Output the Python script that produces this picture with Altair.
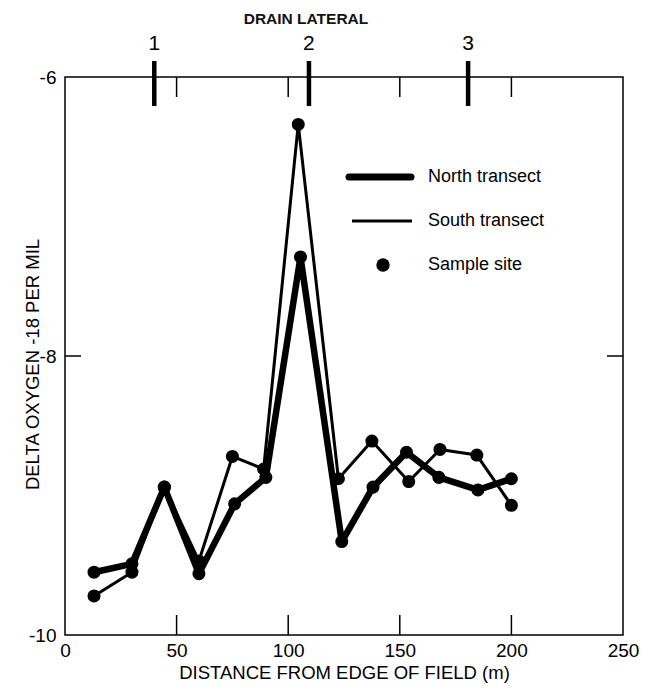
import altair as alt
import pandas as pd

# ---- data ----
north_x = [13, 30, 44.5, 60, 76, 90, 105.5, 124, 138, 153, 167.5, 185, 200]
north_y = [-9.55, -9.49, -8.94, -9.56, -9.06, -8.87, -7.29, -9.33, -8.94, -8.69, -8.87, -8.96, -8.88]
south_x = [13, 30, 44.5, 60, 75, 89, 104.5, 122.5, 137.5, 154, 168, 184.5, 200]
south_y = [-9.72, -9.55, -8.94, -9.47, -8.72, -8.81, -6.34, -8.88, -8.61, -8.90, -8.67, -8.71, -9.07]

drain_x = [40, 109.3, 180.6]
drain_labels = ["1", "2", "3"]

x_tick_values = [50, 100, 150, 200]
y_tick_values = [-8]

FONT = "Liberation Sans, Arial, Helvetica, sans-serif"
W, H = 558, 558

df = pd.DataFrame({
    "x": north_x + south_x,
    "y": north_y + south_y,
    "transect": ["North"] * len(north_x) + ["South"] * len(south_x),
})
drain_df = pd.DataFrame({"x": drain_x, "label": drain_labels})
xt_df = pd.DataFrame({"x": x_tick_values})
yt_df = pd.DataFrame({"y": y_tick_values})
one = pd.DataFrame({"a": [0]})

xscale = alt.Scale(domain=[0, 250], nice=False, zero=False)
yscale = alt.Scale(domain=[-10, -6], nice=False, zero=False)

xaxis = alt.Axis(
    values=[0, 50, 100, 150, 200, 250], title="DISTANCE FROM EDGE OF FIELD (m)",
    domain=False, ticks=False, grid=False, labelFont=FONT, titleFont=FONT,
    labelFontSize=19, titleFontSize=18.5, labelColor="black", titleColor="black",
    titleFontWeight="normal", labelPadding=6, labelFlush=False,
    titleY=43, titleBaseline="alphabetic")
yaxis = alt.Axis(
    values=[-10, -8, -6], labelExpr="datum.value + ''", title="DELTA OXYGEN -18 PER MIL",
    domain=False, ticks=False, grid=False, labelFont=FONT, titleFont=FONT,
    labelFontSize=19, titleFontSize=18.5, labelColor="black", titleColor="black",
    titleFontWeight="normal", labelPadding=9, labelFlush=False,
    titleX=-27, titleY=287, titleBaseline="alphabetic", titleAngle=270)

X = alt.X("x:Q", scale=xscale, axis=xaxis)
Y = alt.Y("y:Q", scale=yscale, axis=yaxis)

base = alt.Chart(df)
north_line = base.transform_filter(alt.datum.transect == "North").mark_line(
    color="black", strokeWidth=6.5, strokeJoin="round", strokeCap="round").encode(x=X, y=Y)
south_line = base.transform_filter(alt.datum.transect == "South").mark_line(
    color="black", strokeWidth=3, strokeJoin="round", strokeCap="round").encode(x=X, y=Y)
points = base.mark_circle(color="black", opacity=1, size=170).encode(x=X, y=Y)

# inward ticks
bottom_ticks = alt.Chart(xt_df).mark_rule(color="black", strokeWidth=1.5).encode(
    x=X, y=alt.value(H), y2=alt.value(H - 20))
top_ticks = alt.Chart(xt_df).mark_rule(color="black", strokeWidth=1.5).encode(
    x=X, y=alt.value(0), y2=alt.value(20))
left_ticks = alt.Chart(yt_df).mark_rule(color="black", strokeWidth=1.5).encode(
    y=Y, x=alt.value(0), x2=alt.value(16))
right_ticks = alt.Chart(yt_df).mark_rule(color="black", strokeWidth=1.5).encode(
    y=Y, x=alt.value(W - 16), x2=alt.value(W))

# drain laterals
drain_rules = alt.Chart(drain_df).mark_rule(color="black", strokeWidth=4.5).encode(
    x=X, y=alt.value(-16), y2=alt.value(29))
drain_text = alt.Chart(drain_df).mark_text(
    font=FONT, fontSize=21, color="black", baseline="middle", align="center").encode(
    x=X, y=alt.value(-33), text="label:N")
drain_title = alt.Chart(one).mark_text(
    font=FONT, fontSize=15.5, fontWeight="bold", color="#111", baseline="middle",
    align="center", text="DRAIN LATERAL").encode(x=alt.value(241), y=alt.value(-58))

# legend
leg_n = alt.Chart(one).mark_rule(color="black", strokeWidth=7, strokeCap="round").encode(
    x=alt.value(284), x2=alt.value(346), y=alt.value(100))
leg_s = alt.Chart(one).mark_rule(color="black", strokeWidth=3).encode(
    x=alt.value(287), x2=alt.value(347), y=alt.value(144))
leg_p = alt.Chart(one).mark_circle(color="black", opacity=1, size=180).encode(
    x=alt.value(318), y=alt.value(188))
leg_t1 = alt.Chart(one).mark_text(font=FONT, fontSize=18, color="black", align="left",
    baseline="middle", text="North transect").encode(x=alt.value(363), y=alt.value(100))
leg_t2 = alt.Chart(one).mark_text(font=FONT, fontSize=18, color="black", align="left",
    baseline="middle", text="South transect").encode(x=alt.value(363), y=alt.value(144))
leg_t3 = alt.Chart(one).mark_text(font=FONT, fontSize=18, color="black", align="left",
    baseline="middle", text="Sample site").encode(x=alt.value(363), y=alt.value(188))

chart = alt.layer(
    north_line, south_line, points,
    bottom_ticks, top_ticks, left_ticks, right_ticks,
    drain_rules, drain_text, drain_title,
    leg_n, leg_s, leg_p, leg_t1, leg_t2, leg_t3,
).properties(
    width=W, height=H,
    autosize=alt.AutoSizeParams(type="none"),
    padding={"left": 57, "top": 69, "right": 20, "bottom": 49},
    background="white",
).configure_view(stroke="black", strokeWidth=1.5)

chart.save("out.html", embed_options={"renderer": "svg", "actions": False})
